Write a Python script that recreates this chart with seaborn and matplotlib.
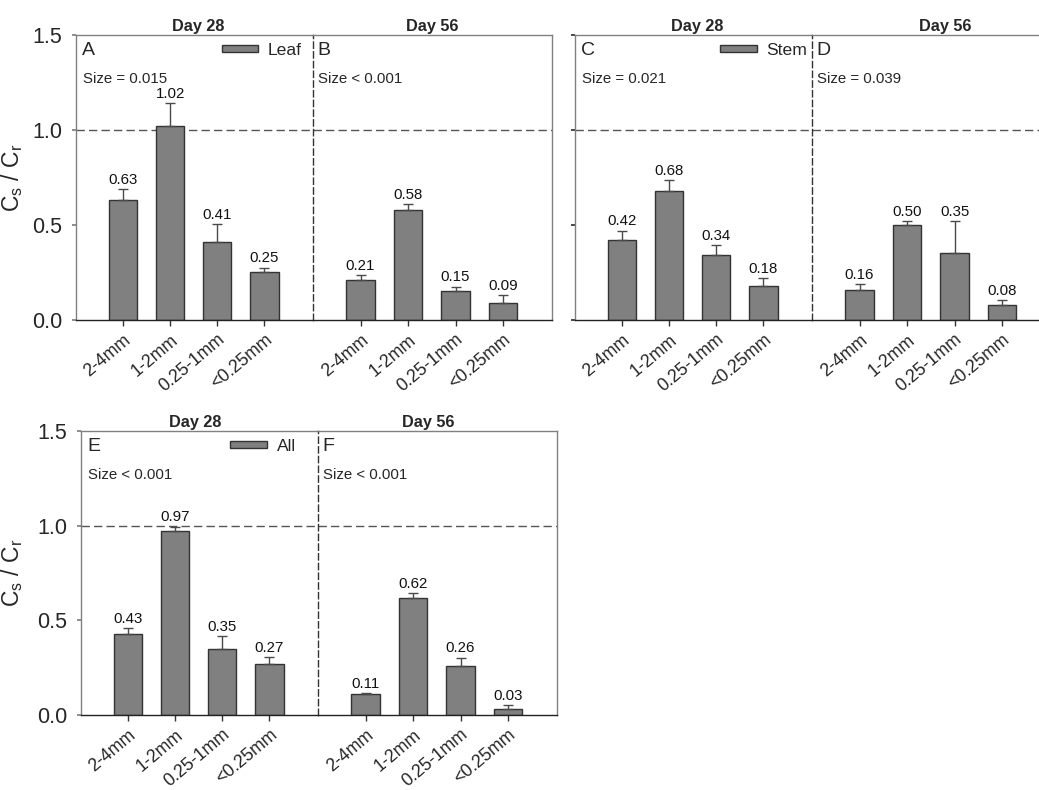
import numpy as np
import pandas as pd
import matplotlib
matplotlib.use("Agg")
import matplotlib.pyplot as plt
from matplotlib.patches import Patch
import seaborn as sns

# Particle size classes
sizes = ["2-4mm", "1-2mm", "0.25-1mm", "<0.25mm"]

# Cs / Cr ratios (mean) and upper standard errors
leaf_d28 = [0.63, 1.02, 0.41, 0.25]
leaf_d28_err = [0.06, 0.12, 0.095, 0.025]
leaf_d56 = [0.21, 0.58, 0.15, 0.09]
leaf_d56_err = [0.027, 0.03, 0.025, 0.04]

stem_d28 = [0.42, 0.68, 0.34, 0.18]
stem_d28_err = [0.05, 0.055, 0.053, 0.04]
stem_d56 = [0.16, 0.50, 0.35, 0.08]
stem_d56_err = [0.03, 0.02, 0.17, 0.025]

all_d28 = [0.43, 0.97, 0.35, 0.27]
all_d28_err = [0.027, 0.025, 0.065, 0.034]
all_d56 = [0.11, 0.62, 0.26, 0.03]
all_d56_err = [0.007, 0.025, 0.043, 0.023]

tissues = ["Leaf", "Stem", "All"]
days = ["Day 28", "Day 56"]
letters = ["A", "B", "C", "D", "E", "F"]
size_stats = ["Size = 0.015", "Size < 0.001", "Size = 0.021",
              "Size = 0.039", "Size < 0.001", "Size < 0.001"]
yticks = [0.0, 0.5, 1.0, 1.5]

sns.set_theme(style="ticks")
plt.rcParams["font.family"] = ["Liberation Sans", "DejaVu Sans"]
plt.rcParams["mathtext.default"] = "regular"

BAR = "#808080"
EDGE = "#333333"
ERR = "#4a4a4a"
SPINE = "#808080"

W, H = 1039, 790
fig = plt.figure(figsize=(W / 100, H / 100), dpi=100)


def add_axes_px(x0, x1, y_top, y_bot):
    return fig.add_axes([x0 / W, 1 - y_bot / H, (x1 - x0) / W, (y_bot - y_top) / H])


def draw_panel(ax, vals, errs, letter, stat, title, title_x, first):
    df = pd.DataFrame({"size": sizes, "ratio": vals})
    sns.barplot(data=df, x="size", y="ratio", ax=ax, color=BAR, saturation=1,
                edgecolor=EDGE, linewidth=1, width=0.6, errorbar=None)
    xs = np.arange(len(vals))
    ax.errorbar(xs, vals, yerr=[np.zeros(len(vals)), errs], fmt="none",
                ecolor=ERR, elinewidth=1, capsize=3.5, capthick=1, zorder=3)
    for x, v, e in zip(xs, vals, errs):
        ax.text(x, v + e + 0.012, f"{v:.2f}", ha="center", va="bottom",
                fontsize=10.8, color="#111111")
    ax.set_xlim(-1.0, 4.03)
    ax.set_ylim(0, 1.5)
    ax.axhline(1.0, color="#555555", lw=1, ls=(0, (6, 3)), zorder=0)
    ax.set_xlabel("")
    ax.set_ylabel("")
    ax.set_xticks(xs)
    ax.set_xticklabels(sizes, rotation=40, ha="right", rotation_mode="anchor",
                       fontsize=12.8)
    ax.tick_params(axis="x", length=4, width=1, color="#333333", pad=4)
    ax.set_title(title, fontsize=11.7, fontweight="bold", x=title_x, pad=3)
    ax.text(0.025 if first else 0.02, 0.947, letter, transform=ax.transAxes,
            fontsize=14, ha="left", va="center")
    ax.text(0.03 if first else 0.02, 0.846, stat, transform=ax.transAxes,
            fontsize=10.8, ha="left", va="center")
    for s in ax.spines.values():
        s.set_visible(True)
        s.set_linewidth(1)
    ax.spines["bottom"].set_color("#222222")
    ax.spines["top"].set_color(SPINE)
    if first:
        ax.spines["left"].set_color(SPINE)
        ax.spines["right"].set_visible(False)
        ax.set_yticks(yticks)
    else:
        # dashed divider between the two sampling days
        ax.spines["left"].set_color("#333333")
        ax.spines["left"].set_linestyle((0, (4.5, 2.5)))
        ax.spines["right"].set_color(SPINE)
        ax.set_yticks([])


def add_legend(ax, label, x_frac):
    handle = Patch(facecolor=BAR, edgecolor=EDGE, linewidth=1)
    ax.legend(handles=[handle], labels=[label], loc="upper left",
              bbox_to_anchor=(x_frac, 0.985), frameon=False, fontsize=12.6,
              handlelength=2.1, handleheight=0.32, handletextpad=0.55,
              borderpad=0.2, borderaxespad=0)


ylabel = r"C$_{s}$ / C$_{r}$"

# Top-left group: leaf
axA = add_axes_px(76, 313, 35, 320)
axB = add_axes_px(313, 552, 35, 320)
draw_panel(axA, leaf_d28, leaf_d28_err, letters[0], size_stats[0], days[0], 0.515, True)
draw_panel(axB, leaf_d56, leaf_d56_err, letters[1], size_stats[1], days[1], 0.498, False)
add_legend(axA, tissues[0], 0.60)
axA.set_yticklabels([f"{t:.1f}" for t in yticks], fontsize=15.5)
axA.tick_params(axis="y", length=3, pad=7, color=SPINE)
axA.set_ylabel(ylabel, fontsize=16.5)
axA.yaxis.set_label_coords(-0.215, 0.5)

# Top-right group: stem
axC = add_axes_px(575, 812, 35, 320)
axD = add_axes_px(812, 1051, 35, 320)
draw_panel(axC, stem_d28, stem_d28_err, letters[2], size_stats[2], days[0], 0.515, True)
draw_panel(axD, stem_d56, stem_d56_err, letters[3], size_stats[3], days[1], 0.556, False)
add_legend(axC, tissues[1], 0.596)
axC.set_yticklabels([])
axC.tick_params(axis="y", length=3, color="#333333")

# Bottom-left group: all
axE = add_axes_px(81, 318, 431, 715)
axF = add_axes_px(318, 557, 431, 715)
draw_panel(axE, all_d28, all_d28_err, letters[4], size_stats[4], days[0], 0.48, True)
draw_panel(axF, all_d56, all_d56_err, letters[5], size_stats[5], days[1], 0.46, False)
add_legend(axE, tissues[2], 0.615)
axE.set_yticklabels([f"{t:.1f}" for t in yticks], fontsize=15.5)
axE.tick_params(axis="y", length=3, pad=7, color=SPINE)
axE.set_ylabel(ylabel, fontsize=16.5)
axE.yaxis.set_label_coords(-0.236, 0.5)

fig.savefig("out.png", dpi=100, facecolor="white")
